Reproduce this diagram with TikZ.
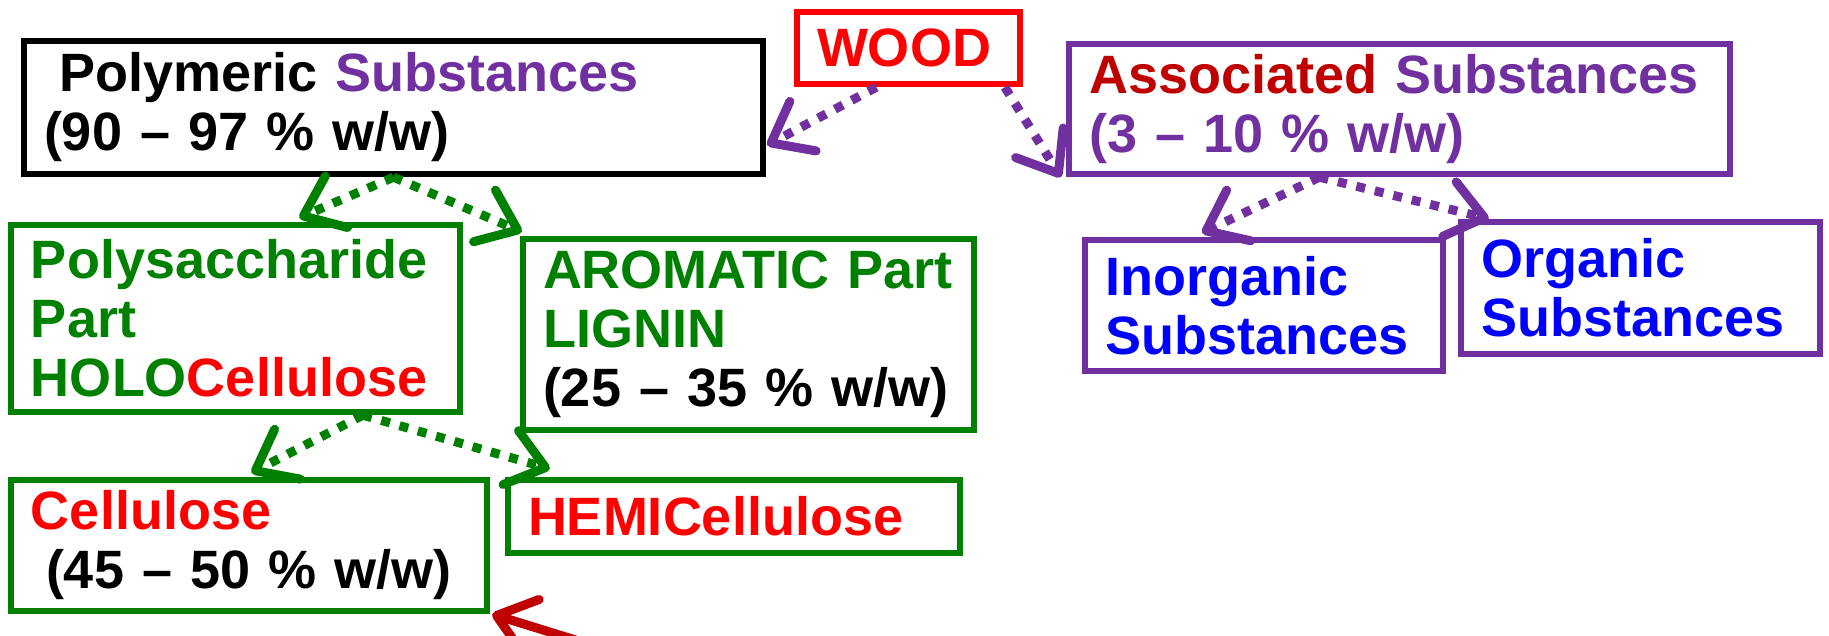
\documentclass[tikz,border=0pt]{standalone}
\usepackage{fontspec}
\setmainfont{Liberation Sans}
\usetikzlibrary{arrows.meta,calc}
\definecolor{cgreen}{RGB}{0,128,0}
\definecolor{cpurple}{RGB}{112,48,160}
\definecolor{cred}{RGB}{255,0,0}
\definecolor{cdred}{RGB}{192,0,0}
\definecolor{cblue}{RGB}{0,0,255}
\begin{document}
\begin{tikzpicture}[x=0.5pt,y=-0.5pt,
  box/.style={draw, line width=3.2pt, inner xsep=10pt, inner ysep=0pt, align=left,
    font=\fontsize{27pt}{29.5pt}\selectfont\bfseries},
  conn/.style={line width=4.5pt, dash pattern=on 4.5pt off 5pt,
    -{Straight Barb[length=18pt,width=28pt,round]}},
  redarrow/.style={line width=4.5pt, cdred, -{Straight Barb[length=18pt,width=28pt,round]}}
]
\path[use as bounding box] (0,0) rectangle (1829,636);

% boxes
\node[box, draw=black, text width=349.5pt, minimum height=66.5pt] (pm) at (393.5,107.5)
  {\mbox{\hspace*{7.5pt}Polymeric \textcolor{cpurple}{Substances}}\\\mbox{(90 – 97 \% w/w)}};
\node[box, draw=cred, text=cred, text width=91.5pt, minimum height=36pt] (wood) at (908.5,48)
  {WOOD};
\node[box, draw=cpurple, text=cpurple, text width=310.5pt, minimum height=65pt] (as) at (1399.5,109)
  {\mbox{\textcolor{cdred}{Associated} Substances}\\\mbox{(3 – 10 \% w/w)}};
\node[box, draw=cgreen, text=cgreen, text width=204.5pt, minimum height=93.5pt] (ps) at (235.5,318.5)
  {Polysaccharide\\Part\\\mbox{HOLO\textcolor{cred}{Cellulose}}};
\node[box, draw=cgreen, text=cgreen, text width=205.5pt, minimum height=95.5pt] (ar) at (748.5,334.5)
  {\mbox{AROMATIC Part}\\LIGNIN\\\mbox{\textcolor{black}{(25 – 35 \% w/w)}}};
\node[box, draw=cpurple, text=cblue, text width=159pt, minimum height=65.5pt] (inorg) at (1264,305.5)
  {Inorganic\\Substances};
\node[box, draw=cpurple, text=cblue, text width=159.5pt, minimum height=66pt] (org) at (1640.5,288)
  {Organic\\Substances};
\node[box, draw=cgreen, text=black, text width=218pt, minimum height=65.5pt] (cel) at (249,545.5)
  {\textcolor{cred}{Cellulose}\\\mbox{\hspace*{7.5pt}(45 – 50 \% w/w)}};
\node[box, draw=cgreen, text=cred, text width=206pt, minimum height=36.5pt] (hemi) at (734,516.5)
  {HEMICellulose};

% connectors
\draw[conn, cpurple] ($(wood.south west)!0.36!(wood.south east)$) -- ($(pm.north east)!0.77!(pm.south east)+(1,0)$);
\draw[conn, cpurple] ($(wood.south west)!0.92!(wood.south east)$) -- ($(as.south west)+(-5,0)$);
\draw[conn, cgreen] (pm.south) -- ($(ps.north west)!0.64!(ps.north east)+(0,-4)$);
\draw[conn, cgreen] (pm.south) -- ($(ar.north west)+(2,-4)$);
\draw[conn, cgreen] ($(ps.south west)!0.78!(ps.south east)$) -- ($(cel.north west)!0.505!(cel.north east)+(0,-4)$);
\draw[conn, cgreen] ($(ps.south west)!0.78!(ps.south east)$) -- ($(hemi.north west)+(45,-8)$);
\draw[conn, cpurple] ($(as.south west)!0.38!(as.south east)$) -- ($(inorg.north west)!0.33!(inorg.north east)+(0,-4)$);
\draw[conn, cpurple] ($(as.south west)!0.38!(as.south east)$) -- ($(org.north west)+(31,0)$);

\begin{scope}
\clip (0,0) rectangle (1829,636);
\coordinate (redsrc) at (640,660);
\draw[redarrow] (redsrc) -- ($(cel.south east)+(2,0)$);
\end{scope}
\end{tikzpicture}
\end{document}
